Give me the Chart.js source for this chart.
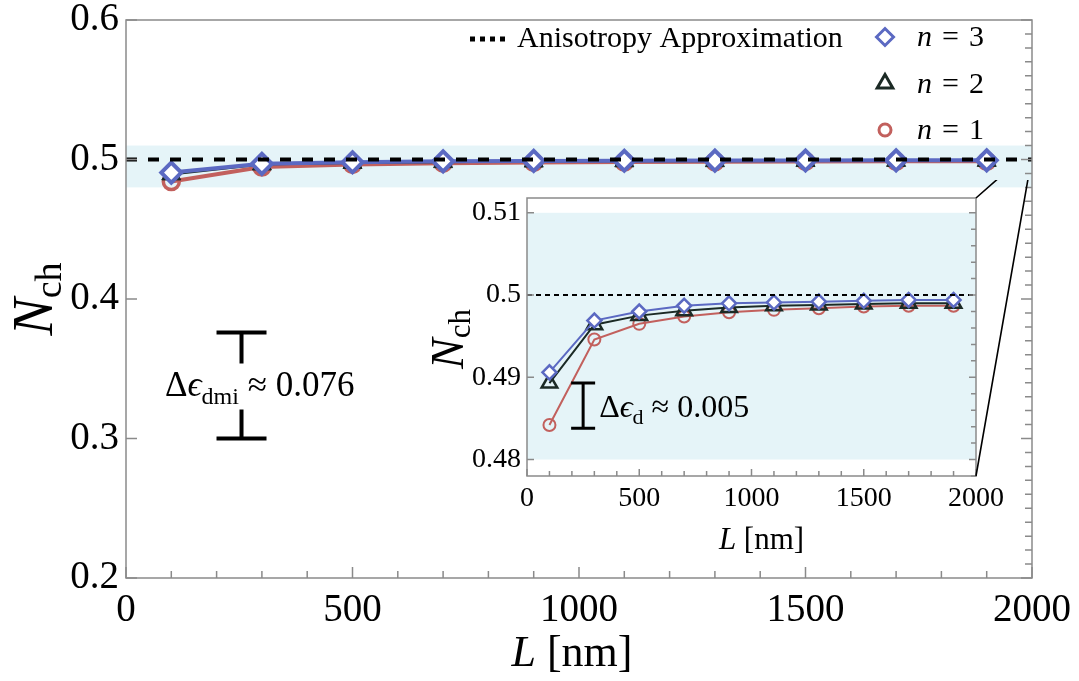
<!DOCTYPE html>
<html>
<head>
<meta charset="utf-8">
<script src="https://cdn.jsdelivr.net/npm/chart.js@4.4.1/dist/chart.umd.min.js"></script>
<style>
  html, body { margin: 0; padding: 0; background: #fff; }
  #wrap { position: relative; width: 1079px; height: 681px; }
  #main { position: absolute; left: 0; top: 0; }
  #inset { position: absolute; left: 400px; top: 180px; }
</style>
</head>
<body>
<div id="wrap">
  <canvas id="main" width="1079" height="681"></canvas>
  <canvas id="inset" width="660" height="400"></canvas>
</div>
<script>
// data
const lengthNm = [100, 300, 500, 700, 900, 1100, 1300, 1500, 1700, 1900];
const nch3 = [0.4906, 0.4969, 0.4980, 0.4987, 0.4990, 0.4991, 0.4992, 0.4993, 0.4994, 0.4994];
const nch2 = [0.4893, 0.4964, 0.4975, 0.4981, 0.4985, 0.4987, 0.4988, 0.4989, 0.4990, 0.4990];
const nch1 = [0.4842, 0.4946, 0.4965, 0.4974, 0.4979, 0.4982, 0.4984, 0.4986, 0.4987, 0.4987];
const anisoX = [0, 2000];
const anisoY = [0.5, 0.5];
const bandRange = [0.48, 0.51];
const dmiGap = [0.3, 0.376];
const dmiGapX = 255;
const dGap = [0.4838, 0.4893];
const dGapX = 250;
const zoomLinkY = [0.5077, 0.5024];

const xTicks = [0, 500, 1000, 1500, 2000];
const xLabels = ["0", "500", "1000", "1500", "2000"];
const mainYTicks = [0.2, 0.3, 0.4, 0.5, 0.6];
const mainYLabels = ["0.2", "0.3", "0.4", "0.5", "0.6"];
const insetYTicks = [0.48, 0.49, 0.5, 0.51];
const insetYLabels = ["0.48", "0.49", "0.5", "0.51"];

const FONT = '"Liberation Serif", "DejaVu Serif", serif';
const BLUE = "#5b69c2";
const RED = "#c2605d";
const DARK = "#1b2a25";
const BAND = "#e5f4f8";
const FRAME = "#8a8a8a";

function font(size, italic) {
    return (italic ? "italic " : "") + size + "px " + FONT;
}

function richWidth(ctx, parts) {
    let w = 0;
    parts.forEach(p => { ctx.font = font(p.size, p.italic); w += ctx.measureText(p.t).width; });
    return w;
}

function richText(ctx, x, y, parts) {
    parts.forEach(p => {
        ctx.font = font(p.size, p.italic);
        ctx.fillText(p.t, x, y + (p.dy || 0));
        x += ctx.measureText(p.t).width;
    });
    return x;
}

function pts(xs, ys) {
    return xs.map((x, i) => ({ x: x, y: ys[i] }));
}

function eachStep(min, max, step, fn) {
    for (let k = Math.ceil(min / step - 1e-6); k * step <= max + 1e-9; k++) fn(k * step);
}

function isMultiple(v, m) {
    return Math.abs(v / m - Math.round(v / m)) < 1e-6;
}

// band, frame and inward ticks
const framePlugin = {
    id: "frame",
    beforeDatasetsDraw(chart) {
        const { ctx, chartArea: a, scales: { y } } = chart;
        ctx.save();
        ctx.fillStyle = "#fff";
        ctx.fillRect(a.left, a.top, a.width, a.height);
        const t = y.getPixelForValue(bandRange[1]);
        const b = y.getPixelForValue(bandRange[0]);
        ctx.fillStyle = BAND;
        ctx.fillRect(a.left, t, a.width, b - t);
        ctx.restore();
    },
    afterDraw(chart, args, o) {
        const { ctx, chartArea: a, scales: { x, y } } = chart;
        ctx.save();
        ctx.strokeStyle = FRAME;
        ctx.lineWidth = 1.5;
        ctx.strokeRect(a.left, a.top, a.width, a.height);
        ctx.beginPath();
        eachStep(x.min, x.max, o.xMinor, v => {
            const px = x.getPixelForValue(v);
            const len = isMultiple(v, o.xMajor) ? o.majorLen : o.minorLen;
            ctx.moveTo(px, a.bottom);
            ctx.lineTo(px, a.bottom - len);
        });
        eachStep(y.min, y.max, o.yLeft, v => {
            const py = y.getPixelForValue(v);
            ctx.moveTo(a.left, py);
            ctx.lineTo(a.left + o.majorLen, py);
        });
        eachStep(y.min, y.max, o.yRightMinor, v => {
            const py = y.getPixelForValue(v);
            const len = isMultiple(v, o.yLeft) ? o.majorLen : o.minorLen;
            ctx.moveTo(a.right, py);
            ctx.lineTo(a.right - len, py);
        });
        ctx.stroke();
        ctx.restore();
    }
};

function seriesSets(big) {
    return [
        {
            label: "Anisotropy Approximation",
            data: pts(anisoX, anisoY),
            borderColor: "#000",
            borderWidth: big ? 4 : 2,
            borderDash: big ? [11, 11] : [5, 4],
            pointRadius: 0,
        },
        {
            label: "n = 3",
            data: pts(lengthNm, nch3),
            borderColor: BLUE,
            borderWidth: big ? 4 : 2,
            pointStyle: "rectRot",
            pointRadius: big ? 10 : 7,
            pointBorderWidth: big ? 4 : 2.5,
            pointBackgroundColor: "#fff",
            pointBorderColor: BLUE,
        },
        {
            label: "n = 2",
            data: pts(lengthNm, nch2),
            borderColor: DARK,
            borderWidth: 2,
            pointStyle: "triangle",
            pointRadius: big ? 11 : 9,
            pointBorderWidth: big ? 1 : 2.5,
            pointBackgroundColor: big ? DARK : "rgba(0,0,0,0)",
            pointBorderColor: DARK,
        },
        {
            label: "n = 1",
            data: pts(lengthNm, nch1),
            borderColor: RED,
            borderWidth: big ? 4 : 2,
            pointStyle: "circle",
            pointRadius: big ? 8 : 6,
            pointBorderWidth: big ? 3.5 : 2,
            pointBackgroundColor: "rgba(0,0,0,0)",
            pointBorderColor: RED,
        },
    ];
}

// main chart extras: titles, legend, annotation
const mainExtras = {
    id: "mainExtras",
    afterDraw(chart) {
        const { ctx, chartArea: a, scales: { x, y } } = chart;
        ctx.save();
        ctx.fillStyle = "#000";
        ctx.textBaseline = "alphabetic";

        // x title
        const xt = [{ t: "L", size: 44, italic: true }, { t: " [nm]", size: 44 }];
        richText(ctx, (a.left + a.right) / 2 - 7 - richWidth(ctx, xt) / 2, a.bottom + 88, xt);

        // y title
        const yt = [{ t: "N", size: 56, italic: true }, { t: "ch", size: 38, dy: 9 }];
        ctx.save();
        ctx.translate(52, (a.top + a.bottom) / 2);
        ctx.rotate(-Math.PI / 2);
        richText(ctx, -richWidth(ctx, yt) / 2, 0, yt);
        ctx.restore();

        // legend
        const sets = chart.data.datasets;
        ctx.save();
        ctx.strokeStyle = "#000";
        ctx.lineWidth = 5;
        ctx.setLineDash([5, 5]);
        ctx.beginPath();
        ctx.moveTo(a.left + 344, a.top + 19);
        ctx.lineTo(a.left + 379, a.top + 19);
        ctx.stroke();
        ctx.restore();
        ctx.font = font(30);
        ctx.fillText(sets[0].label, a.left + 391, a.top + 27);
        const legendSizes = [8.5, 9, 6];
        [1, 2, 3].forEach((idx, row) => {
            const ds = sets[idx];
            const cy = a.top + 17 + row * 46.5;
            const mx = a.right - 147;
            ctx.save();
            ctx.lineWidth = 3;
            ctx.strokeStyle = ds.pointBorderColor;
            ctx.fillStyle = "rgba(0,0,0,0)";
            Chart.helpers.drawPoint(ctx, { pointStyle: ds.pointStyle, radius: legendSizes[row], rotation: 0, borderWidth: 3 }, mx, cy);
            ctx.restore();
            const rest = ds.label.slice(1).trim().split(" ");
            richText(ctx, a.right - 115, cy + 9, [
                { t: "n", size: 30, italic: true },
                { t: "\u2004" + rest[0] + "\u2004" + rest[1], size: 30 },
            ]);
        });

        // I-beam annotation
        const bx = x.getPixelForValue(dmiGapX);
        const yTop = y.getPixelForValue(dmiGap[1]);
        const yBot = y.getPixelForValue(dmiGap[0]);
        const mid = (yTop + yBot) / 2;
        ctx.strokeStyle = "#000";
        ctx.lineWidth = 4;
        ctx.beginPath();
        ctx.moveTo(bx - 25, yTop); ctx.lineTo(bx + 25, yTop);
        ctx.moveTo(bx, yTop); ctx.lineTo(bx, mid - 22);
        ctx.moveTo(bx, mid + 24); ctx.lineTo(bx, yBot);
        ctx.moveTo(bx - 25, yBot); ctx.lineTo(bx + 25, yBot);
        ctx.stroke();
        richText(ctx, a.left + 39, mid + 11, [
            { t: "Δ", size: 35 },
            { t: "ϵ", size: 35, italic: true },
            { t: "dmi", size: 24, dy: 8 },
            { t: " ≈ 0.076", size: 35 },
        ]);
        ctx.restore();
    }
};

const mainChart = new Chart(document.getElementById("main"), {
    type: "line",
    data: { datasets: seriesSets(true) },
    options: {
        responsive: false,
        animation: false,
        layout: { padding: { left: 0, top: 20, right: 47, bottom: 0 } },
        plugins: {
            legend: { display: false },
            tooltip: { enabled: false },
            frame: { xMinor: 100, xMajor: 500, yLeft: 0.1, yRightMinor: 0.01, minorLen: 7, majorLen: 11 },
        },
        scales: {
            x: {
                type: "linear",
                min: 0,
                max: 2000,
                afterBuildTicks: s => { s.ticks = xTicks.map(v => ({ value: v })); },
                afterFit: s => { s.height = 103; s.paddingLeft = 0; s.paddingRight = 0; },
                grid: { drawOnChartArea: false, drawTicks: false },
                border: { display: false },
                ticks: {
                    font: { family: FONT, size: 39, lineHeight: 1 },
                    color: "#000",
                    padding: 13,
                    maxRotation: 0,
                    callback: (v, i) => xLabels[i],
                },
            },
            y: {
                type: "linear",
                min: 0.2,
                max: 0.6,
                afterBuildTicks: s => { s.ticks = mainYTicks.map(v => ({ value: v })); },
                afterFit: s => { s.width = 126; s.paddingTop = 0; s.paddingBottom = 0; },
                grid: { drawOnChartArea: false, drawTicks: false },
                border: { display: false },
                ticks: {
                    font: { family: FONT, size: 39, lineHeight: 1 },
                    color: "#000",
                    padding: 7,
                    callback: (v, i) => mainYLabels[i],
                },
            },
        },
    },
    plugins: [framePlugin, mainExtras],
});

const insetLeft = 400, insetTop = 180;

const insetExtras = {
    id: "insetExtras",
    afterDraw(chart) {
        const { ctx, chartArea: a, scales: { x, y } } = chart;
        ctx.save();
        ctx.fillStyle = "#000";

        const xt = [{ t: "L", size: 31, italic: true }, { t: " [nm]", size: 31 }];
        richText(ctx, (a.left + a.right) / 2 + 10 - richWidth(ctx, xt) / 2, a.bottom + 73, xt);

        const yt = [{ t: "N", size: 46, italic: true }, { t: "ch", size: 31, dy: 7 }];
        ctx.save();
        ctx.translate(63, (a.top + a.bottom) / 2 + 2);
        ctx.rotate(-Math.PI / 2);
        richText(ctx, -richWidth(ctx, yt) / 2, 0, yt);
        ctx.restore();

        const bx = x.getPixelForValue(dGapX);
        const yTop = y.getPixelForValue(dGap[1]);
        const yBot = y.getPixelForValue(dGap[0]);
        ctx.strokeStyle = "#000";
        ctx.lineWidth = 3;
        ctx.beginPath();
        ctx.moveTo(bx - 12, yTop); ctx.lineTo(bx + 12, yTop);
        ctx.moveTo(bx, yTop); ctx.lineTo(bx, yBot);
        ctx.moveTo(bx - 12, yBot); ctx.lineTo(bx + 12, yBot);
        ctx.stroke();
        richText(ctx, bx + 16, (yTop + yBot) / 2 + 11, [
            { t: "Δ", size: 32 },
            { t: "ϵ", size: 32, italic: true },
            { t: "d", size: 22, dy: 7 },
            { t: " ≈ 0.005", size: 32 },
        ]);

        // zoom connector lines to the main chart
        const mx = mainChart.scales.x.getPixelForValue(2000) - insetLeft;
        ctx.lineWidth = 1.6;
        ctx.beginPath();
        ctx.moveTo(a.right, a.top);
        ctx.lineTo(mx, mainChart.scales.y.getPixelForValue(zoomLinkY[0]) - insetTop);
        ctx.moveTo(a.right, a.bottom);
        ctx.lineTo(mx, mainChart.scales.y.getPixelForValue(zoomLinkY[1]) - insetTop);
        ctx.stroke();
        ctx.restore();
    }
};

new Chart(document.getElementById("inset"), {
    type: "line",
    data: { datasets: seriesSets(false) },
    options: {
        responsive: false,
        animation: false,
        layout: { padding: { left: 0, top: 18, right: 84, bottom: 0 } },
        plugins: {
            legend: { display: false },
            tooltip: { enabled: false },
            frame: { xMinor: 100, xMajor: 500, yLeft: 0.01, yRightMinor: 0.002, minorLen: 5, majorLen: 7 },
        },
        scales: {
            x: {
                type: "linear",
                min: 0,
                max: 2000,
                afterBuildTicks: s => { s.ticks = xTicks.map(v => ({ value: v })); },
                afterFit: s => { s.height = 104; s.paddingLeft = 0; s.paddingRight = 0; },
                grid: { drawOnChartArea: false, drawTicks: false },
                border: { display: false },
                ticks: {
                    font: { family: FONT, size: 28, lineHeight: 1 },
                    color: "#000",
                    padding: 9,
                    maxRotation: 0,
                    callback: (v, i) => xLabels[i],
                },
            },
            y: {
                type: "linear",
                min: 0.478,
                max: 0.5118,
                afterBuildTicks: s => { s.ticks = insetYTicks.map(v => ({ value: v })); },
                afterFit: s => { s.width = 127; s.paddingTop = 0; s.paddingBottom = 0; },
                grid: { drawOnChartArea: false, drawTicks: false },
                border: { display: false },
                ticks: {
                    font: { family: FONT, size: 28, lineHeight: 1 },
                    color: "#000",
                    padding: 6,
                    callback: (v, i) => insetYLabels[i],
                },
            },
        },
    },
    plugins: [framePlugin, insetExtras],
});
</script>
</body>
</html>
